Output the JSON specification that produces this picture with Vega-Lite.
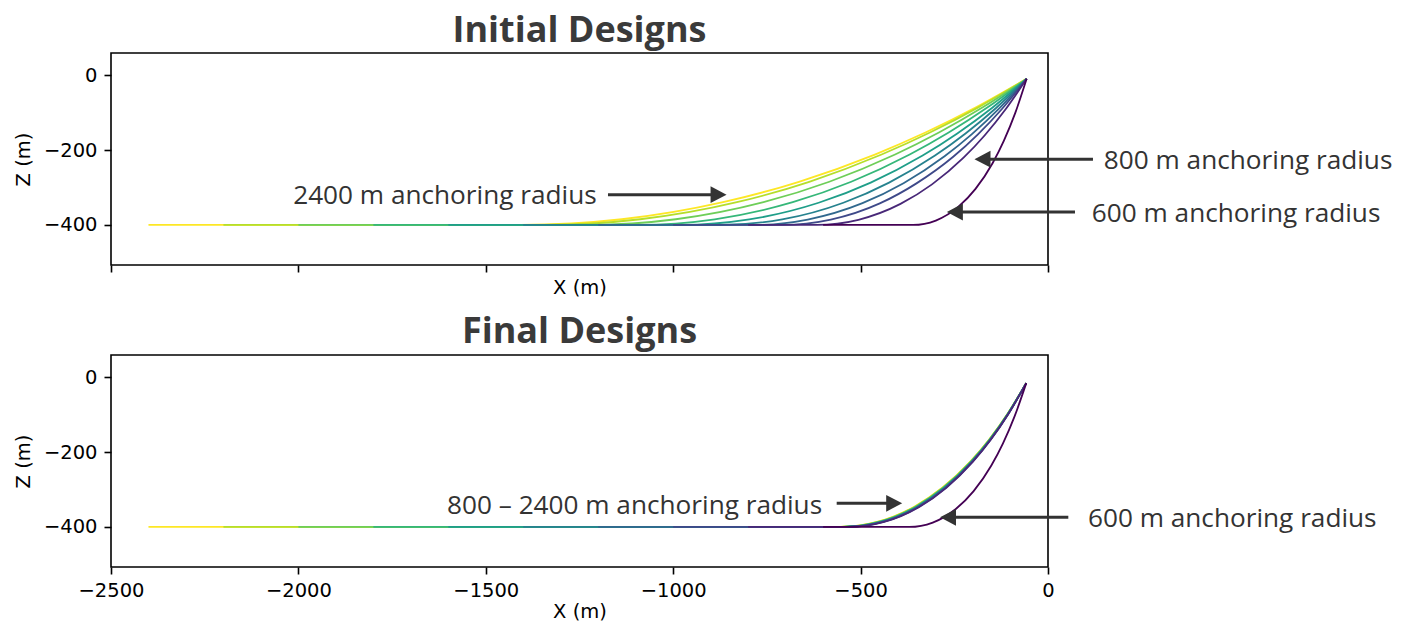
{
  "$schema": "https://vega.github.io/schema/vega-lite/v6.json",
  "background": "white",
  "padding": {"left": 12, "top": 12, "right": 5, "bottom": 5},
  "spacing": 14,
  "config": {
    "view": {"stroke": "black", "strokeWidth": 1.6},
    "axis": {
      "labelFont": "DejaVu Sans", "labelFontSize": 19.5, "labelColor": "black", "labelFlush": false,
      "titleFont": "DejaVu Sans", "titleFontSize": 19.5, "titleFontWeight": "normal", "titleColor": "black",
      "tickColor": "black", "tickWidth": 1.6, "tickSize": 7, "labelPadding": 7,
      "domain": false, "grid": false
    },
    "title": {"font": "Open Sans", "fontSize": 36, "fontWeight": "bold", "color": "#3a3a3a", "anchor": "middle", "frame": "group", "baseline": "alphabetic"}
  },
  "datasets": {
    "top_lines": [
      {"R":2400,"x":-2400,"z":-400},{"R":2400,"x":-1407,"z":-400},{"R":2400,"x":-1137,"z":-384.9},{"R":2400,"x":-867,"z":-339.3},{"R":2400,"x":-664.5,"z":-284.8},{"R":2400,"x":-462,"z":-212.1},{"R":2400,"x":-327,"z":-153.4},{"R":2400,"x":-192,"z":-86.1},{"R":2400,"x":-57,"z":-10},
      {"R":2200,"x":-2200,"z":-400},{"R":2200,"x":-1346,"z":-400},{"R":2200,"x":-1088,"z":-384.9},{"R":2200,"x":-830,"z":-339.3},{"R":2200,"x":-637,"z":-284.8},{"R":2200,"x":-444,"z":-212.1},{"R":2200,"x":-315,"z":-153.4},{"R":2200,"x":-186,"z":-86.1},{"R":2200,"x":-57,"z":-10},
      {"R":2000,"x":-2000,"z":-400},{"R":2000,"x":-1227,"z":-400},{"R":2000,"x":-993,"z":-384.9},{"R":2000,"x":-759,"z":-339.3},{"R":2000,"x":-583.5,"z":-284.8},{"R":2000,"x":-408,"z":-212.1},{"R":2000,"x":-291,"z":-153.4},{"R":2000,"x":-174,"z":-86.1},{"R":2000,"x":-57,"z":-10},
      {"R":1800,"x":-1800,"z":-400},{"R":1800,"x":-1097,"z":-400},{"R":1800,"x":-889,"z":-384.9},{"R":1800,"x":-681,"z":-339.3},{"R":1800,"x":-525,"z":-284.8},{"R":1800,"x":-369,"z":-212.1},{"R":1800,"x":-265,"z":-153.4},{"R":1800,"x":-161,"z":-86.1},{"R":1800,"x":-57,"z":-10},
      {"R":1600,"x":-1600,"z":-400},{"R":1600,"x":-982,"z":-400},{"R":1600,"x":-797,"z":-385.3},{"R":1600,"x":-612,"z":-340.8},{"R":1600,"x":-473,"z":-287.0},{"R":1600,"x":-334.5,"z":-214.8},{"R":1600,"x":-242,"z":-155.9},{"R":1600,"x":-149.5,"z":-87.8},{"R":1600,"x":-57,"z":-10},
      {"R":1400,"x":-1400,"z":-400},{"R":1400,"x":-872,"z":-400},{"R":1400,"x":-709,"z":-385.3},{"R":1400,"x":-546,"z":-340.8},{"R":1400,"x":-424,"z":-287.0},{"R":1400,"x":-301.5,"z":-214.8},{"R":1400,"x":-220,"z":-155.9},{"R":1400,"x":-138.5,"z":-87.8},{"R":1400,"x":-57,"z":-10},
      {"R":1200,"x":-1200,"z":-400},{"R":1200,"x":-787,"z":-400},{"R":1200,"x":-641,"z":-385.6},{"R":1200,"x":-495,"z":-341.9},{"R":1200,"x":-385.5,"z":-288.7},{"R":1200,"x":-276,"z":-216.9},{"R":1200,"x":-203,"z":-157.7},{"R":1200,"x":-130,"z":-89.0},{"R":1200,"x":-57,"z":-10},
      {"R":1000,"x":-1000,"z":-400},{"R":1000,"x":-710,"z":-400},{"R":1000,"x":-579.4,"z":-385.8},{"R":1000,"x":-448.8,"z":-342.6},{"R":1000,"x":-350.9,"z":-289.1},{"R":1000,"x":-252.9,"z":-218.1},{"R":1000,"x":-187.6,"z":-158.9},{"R":1000,"x":-122.3,"z":-89.8},{"R":1000,"x":-57,"z":-10},
      {"R":800,"x":-800,"z":-400},{"R":800,"x":-618,"z":-400},{"R":800,"x":-505.8,"z":-386.2},{"R":800,"x":-393.6,"z":-343.9},{"R":800,"x":-309.5,"z":-291.8},{"R":800,"x":-225.3,"z":-220.6},{"R":800,"x":-169.2,"z":-161.3},{"R":800,"x":-113.1,"z":-91.4},{"R":800,"x":-57,"z":-10},
      {"R":600,"x":-600,"z":-400},{"R":600,"x":-360,"z":-400},{"R":600,"x":-299.4,"z":-388.3},{"R":600,"x":-238.8,"z":-351.3},{"R":600,"x":-193.4,"z":-303.9},{"R":600,"x":-147.9,"z":-235.4},{"R":600,"x":-117.6,"z":-175.2},{"R":600,"x":-87.3,"z":-101.0},{"R":600,"x":-57,"z":-10}
    ],
    "bottom_lines": [
      {"R":2400,"x":-2400,"z":-400},{"R":2400,"x":-556,"z":-400},{"R":2400,"x":-456.4,"z":-386.8},{"R":2400,"x":-356.8,"z":-346.0},{"R":2400,"x":-282.1,"z":-295.6},{"R":2400,"x":-207.4,"z":-225.9},{"R":2400,"x":-157.6,"z":-167.4},{"R":2400,"x":-107.8,"z":-97.8},{"R":2400,"x":-58,"z":-16},
      {"R":2200,"x":-2200,"z":-400},{"R":2200,"x":-553,"z":-400},{"R":2200,"x":-454,"z":-386.8},{"R":2200,"x":-355,"z":-346.0},{"R":2200,"x":-280.8,"z":-295.6},{"R":2200,"x":-206.5,"z":-225.9},{"R":2200,"x":-157,"z":-167.4},{"R":2200,"x":-107.5,"z":-97.8},{"R":2200,"x":-58,"z":-16},
      {"R":2000,"x":-2000,"z":-400},{"R":2000,"x":-550,"z":-400},{"R":2000,"x":-451.6,"z":-386.8},{"R":2000,"x":-353.2,"z":-346.0},{"R":2000,"x":-279.4,"z":-295.6},{"R":2000,"x":-205.6,"z":-225.9},{"R":2000,"x":-156.4,"z":-167.4},{"R":2000,"x":-107.2,"z":-97.8},{"R":2000,"x":-58,"z":-16},
      {"R":1800,"x":-1800,"z":-400},{"R":1800,"x":-547,"z":-400},{"R":1800,"x":-449.2,"z":-386.8},{"R":1800,"x":-351.4,"z":-346.0},{"R":1800,"x":-278.1,"z":-295.6},{"R":1800,"x":-204.7,"z":-225.9},{"R":1800,"x":-155.8,"z":-167.4},{"R":1800,"x":-106.9,"z":-97.8},{"R":1800,"x":-58,"z":-16},
      {"R":1600,"x":-1600,"z":-400},{"R":1600,"x":-544,"z":-400},{"R":1600,"x":-446.8,"z":-386.8},{"R":1600,"x":-349.6,"z":-346.0},{"R":1600,"x":-276.7,"z":-295.6},{"R":1600,"x":-203.8,"z":-225.9},{"R":1600,"x":-155.2,"z":-167.4},{"R":1600,"x":-106.6,"z":-97.8},{"R":1600,"x":-58,"z":-16},
      {"R":1400,"x":-1400,"z":-400},{"R":1400,"x":-541,"z":-400},{"R":1400,"x":-444.4,"z":-386.8},{"R":1400,"x":-347.8,"z":-346.0},{"R":1400,"x":-275.4,"z":-295.6},{"R":1400,"x":-202.9,"z":-225.9},{"R":1400,"x":-154.6,"z":-167.4},{"R":1400,"x":-106.3,"z":-97.8},{"R":1400,"x":-58,"z":-16},
      {"R":1200,"x":-1200,"z":-400},{"R":1200,"x":-538,"z":-400},{"R":1200,"x":-442,"z":-386.8},{"R":1200,"x":-346,"z":-346.0},{"R":1200,"x":-274,"z":-295.6},{"R":1200,"x":-202,"z":-225.9},{"R":1200,"x":-154,"z":-167.4},{"R":1200,"x":-106,"z":-97.8},{"R":1200,"x":-58,"z":-16},
      {"R":1000,"x":-1000,"z":-400},{"R":1000,"x":-535,"z":-400},{"R":1000,"x":-439.6,"z":-386.8},{"R":1000,"x":-344.2,"z":-346.0},{"R":1000,"x":-272.7,"z":-295.6},{"R":1000,"x":-201.1,"z":-225.9},{"R":1000,"x":-153.4,"z":-167.4},{"R":1000,"x":-105.7,"z":-97.8},{"R":1000,"x":-58,"z":-16},
      {"R":800,"x":-800,"z":-400},{"R":800,"x":-532,"z":-400},{"R":800,"x":-437.2,"z":-386.8},{"R":800,"x":-342.4,"z":-346.0},{"R":800,"x":-271.3,"z":-295.6},{"R":800,"x":-200.2,"z":-225.9},{"R":800,"x":-152.8,"z":-167.4},{"R":800,"x":-105.4,"z":-97.8},{"R":800,"x":-58,"z":-16},
      {"R":600,"x":-600,"z":-400},{"R":600,"x":-370,"z":-400},{"R":600,"x":-307.6,"z":-388.3},{"R":600,"x":-245.2,"z":-351.4},{"R":600,"x":-198.4,"z":-304.4},{"R":600,"x":-151.6,"z":-236.7},{"R":600,"x":-120.4,"z":-177.5},{"R":600,"x":-89.2,"z":-104.8},{"R":600,"x":-58,"z":-16}
    ],
    "top_arrows": [
      {"x":-1174,"x2":-890,"z":-319.3},
      {"x":-165,"x2":120,"z":-224.5},
      {"x":-237,"x2":72,"z":-365.5}
    ],
    "top_heads": [
      {"x":-879,"z":-319.3,"dir":"right"},
      {"x":-174.8,"z":-224.5,"dir":"left"},
      {"x":-248.5,"z":-365.5,"dir":"left"}
    ],
    "top_labels": [
      {"x":-2014,"z":-343.3,"text":"2400 m anchoring radius"},
      {"x":149,"z":-249.9,"text":"800 m anchoring radius"},
      {"x":117,"z":-391.3,"text":"600 m anchoring radius"}
    ],
    "bottom_arrows": [
      {"x":-563.8,"x2":-420,"z":-336.9},
      {"x":-254,"x2":54.2,"z":-374.3}
    ],
    "bottom_heads": [
      {"x":-410.4,"z":-336.9,"dir":"right"},
      {"x":-266.8,"z":-374.3,"dir":"left"}
    ],
    "bottom_labels": [
      {"x":-1603.5,"z":-365.5,"text":"800 – 2400 m anchoring radius"},
      {"x":106.7,"z":-400.2,"text":"600 m anchoring radius"}
    ]
  },
  "vconcat": [
    {
      "title": {"text": "Initial Designs", "offset": 3},
      "width": 937,
      "height": 212,
      "layer": [
        {
          "data": {"name": "top_lines"},
          "mark": {"type": "line", "interpolate": "monotone", "strokeWidth": 1.8},
          "encoding": {
            "x": {"field": "x", "type": "quantitative", "scale": {"domain": [-2500, 0], "nice": false, "zero": false},
                  "axis": {"title": "X (m)", "values": [-2500, -2000, -1500, -1000, -500, 0], "labels": false, "titlePadding": 6}},
            "y": {"field": "z", "type": "quantitative", "scale": {"domain": [-507, 59], "nice": false, "zero": false},
                  "axis": {"title": "Z (m)", "values": [0, -200, -400], "titlePadding": 10}},
            "color": {"field": "R", "type": "ordinal", "legend": null,
                      "scale": {"domain": [600, 800, 1000, 1200, 1400, 1600, 1800, 2000, 2200, 2400],
                                "range": ["#440154", "#482878", "#3e4989", "#31688e", "#26828e", "#1f9e89", "#35b779", "#6ece58", "#b5de2b", "#fde725"]}}
          }
        },
        {
          "data": {"name": "top_arrows"},
          "mark": {"type": "rule", "color": "#333333", "strokeWidth": 3},
          "encoding": {
            "x": {"field": "x", "type": "quantitative"},
            "x2": {"field": "x2"},
            "y": {"field": "z", "type": "quantitative"}
          }
        },
        {
          "data": {"name": "top_heads"},
          "mark": {"type": "point", "filled": true, "color": "#333333", "opacity": 1, "size": 256},
          "encoding": {
            "x": {"field": "x", "type": "quantitative"},
            "y": {"field": "z", "type": "quantitative"},
            "shape": {"field": "dir", "type": "nominal", "legend": null,
                      "scale": {"domain": ["left", "right"], "range": ["M1,-1.05L-1,0L1,1.05Z", "M-1,-1.05L1,0L-1,1.05Z"]}}
          }
        },
        {
          "data": {"name": "top_labels"},
          "mark": {"type": "text", "align": "left", "baseline": "alphabetic", "font": "Open Sans", "fontSize": 26.2, "color": "#333333"},
          "encoding": {
            "x": {"field": "x", "type": "quantitative"},
            "y": {"field": "z", "type": "quantitative"},
            "text": {"field": "text"}
          }
        }
      ]
    },
    {
      "title": {"text": "Final Designs", "offset": 4},
      "width": 937,
      "height": 212,
      "layer": [
        {
          "data": {"name": "bottom_lines"},
          "mark": {"type": "line", "interpolate": "monotone", "strokeWidth": 1.8},
          "encoding": {
            "x": {"field": "x", "type": "quantitative", "scale": {"domain": [-2500, 0], "nice": false, "zero": false},
                  "axis": {"title": "X (m)", "values": [-2500, -2000, -1500, -1000, -500, 0], "format": "d", "titlePadding": 3}},
            "y": {"field": "z", "type": "quantitative", "scale": {"domain": [-507, 59], "nice": false, "zero": false},
                  "axis": {"title": "Z (m)", "values": [0, -200, -400], "titlePadding": 10}},
            "color": {"field": "R", "type": "ordinal", "legend": null,
                      "scale": {"domain": [600, 800, 1000, 1200, 1400, 1600, 1800, 2000, 2200, 2400],
                                "range": ["#440154", "#482878", "#3e4989", "#31688e", "#26828e", "#1f9e89", "#35b779", "#6ece58", "#b5de2b", "#fde725"]}}
          }
        },
        {
          "data": {"name": "bottom_arrows"},
          "mark": {"type": "rule", "color": "#333333", "strokeWidth": 3},
          "encoding": {
            "x": {"field": "x", "type": "quantitative"},
            "x2": {"field": "x2"},
            "y": {"field": "z", "type": "quantitative"}
          }
        },
        {
          "data": {"name": "bottom_heads"},
          "mark": {"type": "point", "filled": true, "color": "#333333", "opacity": 1, "size": 256},
          "encoding": {
            "x": {"field": "x", "type": "quantitative"},
            "y": {"field": "z", "type": "quantitative"},
            "shape": {"field": "dir", "type": "nominal", "legend": null,
                      "scale": {"domain": ["left", "right"], "range": ["M1,-1.05L-1,0L1,1.05Z", "M-1,-1.05L1,0L-1,1.05Z"]}}
          }
        },
        {
          "data": {"name": "bottom_labels"},
          "mark": {"type": "text", "align": "left", "baseline": "alphabetic", "font": "Open Sans", "fontSize": 26.2, "color": "#333333"},
          "encoding": {
            "x": {"field": "x", "type": "quantitative"},
            "y": {"field": "z", "type": "quantitative"},
            "text": {"field": "text"}
          }
        }
      ]
    }
  ]
}
